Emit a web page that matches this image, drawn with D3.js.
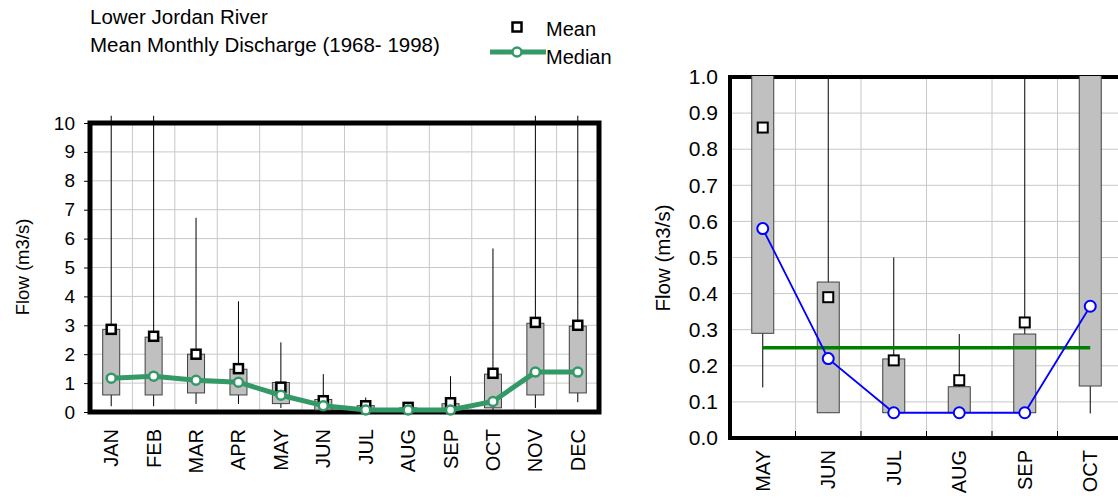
<!DOCTYPE html>
<html>
<head>
<meta charset="utf-8">
<script src="https://cdn.jsdelivr.net/npm/d3@7"></script>
<style>
  body { margin: 0; background: #fff; }
  svg { display: block; font-family: "Liberation Sans", Arial, sans-serif; }
</style>
</head>
<body>
<div id="chart"></div>
<script>
/* DATA */
const months = ["JAN", "FEB", "MAR", "APR", "MAY", "JUN", "JUL", "AUG", "SEP", "OCT", "NOV", "DEC"];
const whiskerLow = [0.2, 0.2, 0.28, 0.28, 0.14, 0.07, 0.07, 0.07, 0.07, 0.068, 0.14, 0.34];
const q1 = [0.59, 0.59, 0.66, 0.59, 0.29, 0.07, 0.07, 0.07, 0.07, 0.144, 0.59, 0.66];
const q3 = [2.86, 2.59, 2.0, 1.48, 1.02, 0.432, 0.219, 0.142, 0.288, 1.31, 3.07, 2.97];
const whiskerHigh = [12, 12, 6.72, 3.83, 2.41, 1.31, 0.5, 0.288, 1.24, 5.66, 12, 12];
const means = [2.86, 2.62, 2.0, 1.5, 0.86, 0.39, 0.215, 0.16, 0.32, 1.34, 3.1, 3.0];
const medians = [1.17, 1.24, 1.1, 1.03, 0.58, 0.22, 0.07, 0.07, 0.07, 0.365, 1.38, 1.38];

const zoomMonths = ["MAY", "JUN", "JUL", "AUG", "SEP", "OCT"];
const threshold = 0.25;

const leftTicks = [0, 1, 2, 3, 4, 5, 6, 7, 8, 9, 10];
const rightTicks = [0, 0.1, 0.2, 0.3, 0.4, 0.5, 0.6, 0.7, 0.8, 0.9, 1.0];

/* CONSTANTS */
const width = 1118, height = 502;
const gridColor = "#c8c8c8";
const boxFill = "#c0c0c0";
const medianGreen = "#339966";

const rows = months.map((m, i) => ({
  month: m, lo: whiskerLow[i], q1: q1[i], q3: q3[i], hi: whiskerHigh[i],
  mean: means[i], median: medians[i]
}));
const zoomRows = rows.filter(d => zoomMonths.includes(d.month));

const svg = d3.select("#chart").append("svg")
  .attr("width", width)
  .attr("height", height);

/* TITLE + LEGEND */
svg.append("text").attr("x", 90).attr("y", 24).attr("font-size", 20.5).text("Lower Jordan River");
svg.append("text").attr("x", 90).attr("y", 52).attr("font-size", 20.5).text("Mean Monthly Discharge (1968- 1998)");

svg.append("rect")
  .attr("x", 512.5).attr("y", 22.5).attr("width", 9).attr("height", 9)
  .attr("fill", "#fff").attr("stroke", "#000").attr("stroke-width", 2.5);
svg.append("text").attr("x", 546).attr("y", 36).attr("font-size", 20).text("Mean");
svg.append("line")
  .attr("x1", 490).attr("x2", 546).attr("y1", 52).attr("y2", 52)
  .attr("stroke", medianGreen).attr("stroke-width", 5);
svg.append("circle")
  .attr("cx", 517).attr("cy", 52).attr("r", 4.5)
  .attr("fill", "#fff").attr("stroke", medianGreen).attr("stroke-width", 2.5);
svg.append("text").attr("x", 546).attr("y", 64).attr("font-size", 20).text("Median");

/* LEFT CHART */
const xL = d3.scaleBand().domain(months).range([90, 599]);
const yL = d3.scaleLinear().domain([0, 10]).range([412, 123]);

const left = svg.append("g");

left.append("g").selectAll("line")
  .data(leftTicks.slice(1))
  .join("line")
  .attr("x1", 90).attr("x2", 599)
  .attr("y1", d => yL(d)).attr("y2", d => yL(d))
  .attr("stroke", gridColor);
left.append("g").selectAll("line")
  .data(months.slice(1))
  .join("line")
  .attr("x1", d => xL(d)).attr("x2", d => xL(d))
  .attr("y1", yL(10)).attr("y2", yL(0))
  .attr("stroke", gridColor);

left.append("rect")
  .attr("x", 90).attr("y", yL(10))
  .attr("width", 599 - 90).attr("height", yL(0) - yL(10))
  .attr("fill", "none").attr("stroke", "#000").attr("stroke-width", 5);

const yAxisL = left.append("g")
  .attr("transform", "translate(90,0)")
  .call(d3.axisLeft(yL).tickValues(leftTicks).tickFormat(d3.format("d")).tickSize(6).tickPadding(9));
yAxisL.select(".domain").remove();
yAxisL.selectAll("text").attr("font-size", 19).attr("fill", "#000").attr("font-family", null);

const xAxisL = left.append("g")
  .attr("transform", `translate(0,${yL(0)})`)
  .call(d3.axisBottom(xL).tickSize(0));
xAxisL.select(".domain").remove();
xAxisL.selectAll("text")
  .attr("transform", "rotate(-90)")
  .attr("x", -17).attr("y", 0).attr("dy", "0.35em")
  .attr("text-anchor", "end")
  .attr("font-size", 20).attr("fill", "#000").attr("font-family", null);

left.append("text")
  .attr("transform", "translate(22,267) rotate(-90)")
  .attr("text-anchor", "middle").attr("dominant-baseline", "central")
  .attr("font-size", 18.5)
  .text("Flow (m3/s)");

const cxL = d => xL(d.month) + xL.bandwidth() / 2;
const boxWL = 17;

left.append("g").selectAll("line")
  .data(rows)
  .join("line")
  .attr("x1", cxL).attr("x2", cxL)
  .attr("y1", d => yL(d.lo))
  .attr("y2", d => Math.max(yL(d.hi), yL(10.25)))
  .attr("stroke", "#000").attr("stroke-width", 1);

left.append("g").selectAll("rect")
  .data(rows)
  .join("rect")
  .attr("x", d => cxL(d) - boxWL / 2)
  .attr("width", boxWL)
  .attr("y", d => yL(d.q3))
  .attr("height", d => yL(d.q1) - yL(d.q3))
  .attr("fill", boxFill).attr("stroke", "#404040").attr("stroke-width", 1);

left.append("g").selectAll("rect")
  .data(rows)
  .join("rect")
  .attr("x", d => cxL(d) - 4.5)
  .attr("y", d => yL(d.mean) - 4.5)
  .attr("width", 9).attr("height", 9)
  .attr("fill", "#fff").attr("stroke", "#000").attr("stroke-width", 2.5);

left.append("path")
  .datum(rows)
  .attr("fill", "none")
  .attr("stroke", medianGreen).attr("stroke-width", 5)
  .attr("d", d3.line().x(cxL).y(d => yL(d.median)));

left.append("g").selectAll("circle")
  .data(rows)
  .join("circle")
  .attr("cx", cxL).attr("cy", d => yL(d.median)).attr("r", 4.5)
  .attr("fill", "#fff").attr("stroke", medianGreen).attr("stroke-width", 2.5);

/* RIGHT CHART (zoom on low-flow months) */
const xR = d3.scaleBand().domain(zoomMonths).range([730, 1123]);
const yR = d3.scaleLinear().domain([0, 1]).range([438, 77]);

const right = svg.append("g");

right.append("clipPath").attr("id", "clipR")
  .append("rect")
  .attr("x", 730).attr("y", yR(1) - 1)
  .attr("width", 1123 - 730).attr("height", yR(0) - yR(1) + 1);

right.append("g").selectAll("line")
  .data(rightTicks.slice(1))
  .join("line")
  .attr("x1", 730).attr("x2", 1123)
  .attr("y1", d => yR(d)).attr("y2", d => yR(d))
  .attr("stroke", gridColor);
right.append("g").selectAll("line")
  .data(zoomMonths.slice(1))
  .join("line")
  .attr("x1", d => xR(d)).attr("x2", d => xR(d))
  .attr("y1", yR(1)).attr("y2", yR(0))
  .attr("stroke", gridColor);
right.append("g").selectAll("line")
  .data(zoomMonths.slice(1))
  .join("line")
  .attr("x1", d => xR(d)).attr("x2", d => xR(d))
  .attr("y1", yR(0) - 7).attr("y2", yR(0))
  .attr("stroke", "#000");

right.append("rect")
  .attr("x", 730).attr("y", yR(1))
  .attr("width", 1123 - 730).attr("height", yR(0) - yR(1))
  .attr("fill", "none").attr("stroke", "#000").attr("stroke-width", 4);

const yAxisR = right.append("g")
  .attr("transform", "translate(730,0)")
  .call(d3.axisLeft(yR).tickValues(rightTicks).tickFormat(d3.format(".1f")).tickSize(0).tickPadding(12));
yAxisR.select(".domain").remove();
yAxisR.selectAll("text").attr("font-size", 21).attr("fill", "#000").attr("font-family", null);

const xAxisR = right.append("g")
  .attr("transform", `translate(0,${yR(0)})`)
  .call(d3.axisBottom(xR).tickSize(0));
xAxisR.select(".domain").remove();
xAxisR.selectAll("text")
  .attr("transform", "rotate(-90)")
  .attr("x", -12).attr("y", 0).attr("dy", "0.35em")
  .attr("text-anchor", "end")
  .attr("font-size", 20).attr("fill", "#000").attr("font-family", null);

right.append("text")
  .attr("transform", "translate(662,258) rotate(-90)")
  .attr("text-anchor", "middle").attr("dominant-baseline", "central")
  .attr("font-size", 20.5)
  .text("Flow (m3/s)");

const cxR = d => xR(d.month) + xR.bandwidth() / 2;
const boxWR = 22;
const plotR = right.append("g").attr("clip-path", "url(#clipR)");

plotR.append("g").selectAll("line")
  .data(zoomRows)
  .join("line")
  .attr("x1", cxR).attr("x2", cxR)
  .attr("y1", d => yR(d.lo)).attr("y2", d => yR(d.hi))
  .attr("stroke", "#000").attr("stroke-width", 1);

plotR.append("g").selectAll("rect")
  .data(zoomRows)
  .join("rect")
  .attr("x", d => cxR(d) - boxWR / 2)
  .attr("width", boxWR)
  .attr("y", d => yR(d.q3))
  .attr("height", d => yR(d.q1) - yR(d.q3))
  .attr("fill", boxFill).attr("stroke", "#404040").attr("stroke-width", 1);

plotR.append("g").selectAll("rect")
  .data(zoomRows)
  .join("rect")
  .attr("x", d => cxR(d) - 5)
  .attr("y", d => yR(d.mean) - 5)
  .attr("width", 10).attr("height", 10)
  .attr("fill", "#fff").attr("stroke", "#000").attr("stroke-width", 2);

plotR.append("line")
  .attr("x1", cxR(zoomRows[0])).attr("x2", cxR(zoomRows[zoomRows.length - 1]))
  .attr("y1", yR(threshold)).attr("y2", yR(threshold))
  .attr("stroke", "#008000").attr("stroke-width", 3.5);

plotR.append("path")
  .datum(zoomRows)
  .attr("fill", "none")
  .attr("stroke", "#0000ff").attr("stroke-width", 1.8)
  .attr("d", d3.line().x(cxR).y(d => yR(d.median)));

plotR.append("g").selectAll("circle")
  .data(zoomRows)
  .join("circle")
  .attr("cx", cxR).attr("cy", d => yR(d.median)).attr("r", 5.5)
  .attr("fill", "#fff").attr("stroke", "#0000ff").attr("stroke-width", 2);
</script>
</body>
</html>
